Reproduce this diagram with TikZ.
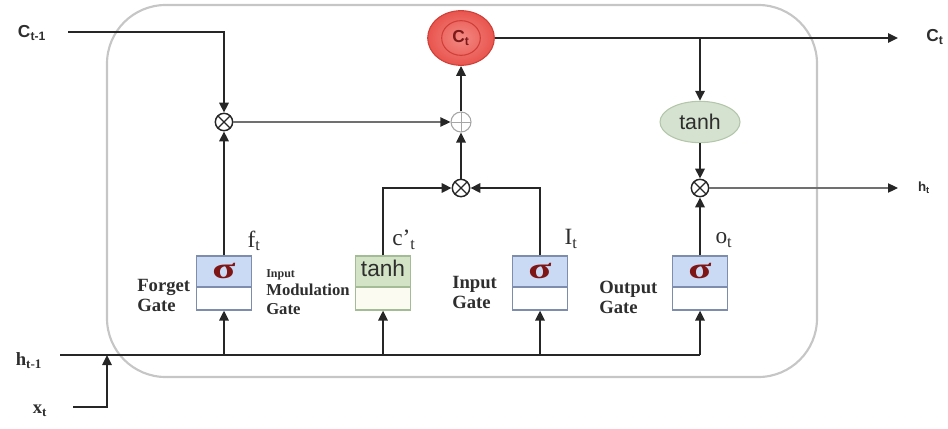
\documentclass[tikz,border=0pt]{standalone}
\usepackage{fontspec}
\setmainfont{Liberation Serif}
\setsansfont{Liberation Sans}
\usetikzlibrary{arrows.meta,shapes.geometric}

\definecolor{wire}{HTML}{262626}
\definecolor{thinwire}{HTML}{707070}
\definecolor{cellframe}{HTML}{C6C6C6}
\definecolor{sigfill}{HTML}{CBDAF4}
\definecolor{sigline}{HTML}{7F8DAD}
\definecolor{tanhfill}{HTML}{D3E3C6}
\definecolor{tanhline}{HTML}{A3BC95}
\definecolor{tanhlow}{HTML}{FBFBF1}
\definecolor{sigred}{HTML}{7E1616}
\definecolor{cellin}{HTML}{F38A84}
\definecolor{cellout}{HTML}{E9544E}
\definecolor{cellrim}{HTML}{D03E38}
\definecolor{celltext}{HTML}{7A1A1A}
\definecolor{ovalfill}{HTML}{D5E2CF}
\definecolor{ovalline}{HTML}{B3C6AA}
\definecolor{txt}{HTML}{2E2E2E}

\newcommand\fsz[2]{\fontsize{#1}{#2}\selectfont}
\newcommand\widesig{\scalebox{1.45}[1]{σ}}

\begin{document}
\begin{tikzpicture}[x=0.75pt,y=-0.75pt,
  wire/.style={draw=wire,line width=1.6pt},
  flow/.style={wire,-{Triangle[length=7.5pt,width=7pt]}},
  thinflow/.style={draw=thinwire,line width=0.8pt,-{Triangle[length=7.5pt,width=7pt,color=wire]}},
  mult/.style={circle,draw=wire,line width=1.1pt,minimum size=13pt,inner sep=0pt,fill=white,
    path picture={\draw[wire,line width=0.9pt]
      (path picture bounding box.north west) -- (path picture bounding box.south east)
      (path picture bounding box.north east) -- (path picture bounding box.south west);}},
  addc/.style={circle,draw=gray!70,line width=0.8pt,minimum size=15pt,inner sep=0pt,fill=white,
    path picture={\draw[gray!70,line width=0.6pt]
      (path picture bounding box.north) -- (path picture bounding box.south)
      (path picture bounding box.west) -- (path picture bounding box.east);}},
  gatebox/.style n args={3}{rectangle,draw=#2,line width=0.9pt,fill=#3,
    minimum width=41pt,minimum height=40.5pt,inner sep=0pt,
    path picture={\fill[#1] (path picture bounding box.north west)
        rectangle ([yshift=-3pt]path picture bounding box.east);
      \draw[#2,line width=0.9pt] ([yshift=-3pt]path picture bounding box.west)
        -- ([yshift=-3pt]path picture bounding box.east);}},
  sigbox/.style={gatebox={sigfill}{sigline}{white}},
  tanhbox/.style={gatebox={tanhfill}{tanhline}{tanhlow}},
  sig/.style={text=sigred,font=\fsz{22pt}{22pt}\bfseries,inner sep=0pt},
  outlbl/.style={text=txt,font=\fsz{17.5pt}{17.5pt},inner sep=0pt},
  gatelbl/.style={text=txt,font=\fsz{14pt}{15pt}\bfseries,align=left,anchor=west,inner sep=0pt},
  iolbl/.style={text=txt,inner sep=0pt}
]
\useasboundingbox (0,0) rectangle (948,428);

% cell frame
\draw[cellframe,line width=1.6pt,rounded corners=44pt] (107,5) rectangle (817,377);

% gates
\node[sigbox]  (fg) at (224,283) {};
\node[tanhbox] (tb) at (383,283) {};
\node[sigbox]  (ig) at (540,283) {};
\node[sigbox]  (og) at (700,283) {};
\node[sig] (fgs) at ([yshift=-11.5pt]fg.north) {\widesig};
\node[text=txt,font=\fsz{17pt}{17pt}\sffamily,inner sep=0pt] (tbs) at ([yshift=-10pt]tb.north) {tanh};
\node[sig] (igs) at ([yshift=-11.5pt]ig.north) {\widesig};
\node[sig] (ogs) at ([yshift=-11.5pt]og.north) {\widesig};

% gate captions
\node[gatelbl] (fgl) at (137,295) {Forget\\Gate};
\node[gatelbl,font=\fsz{12.5pt}{14pt}\bfseries] (tbl) at (266,292)
  {{\fsz{9pt}{10pt}\bfseries Input}\\Modulation\\Gate};
\node[gatelbl] (igl) at (452,292) {Input\\Gate};
\node[gatelbl] (ogl) at (599,297) {Output\\Gate};

% gate outputs
\node[outlbl] (fo) at (254,241) {f\textsubscript{t}};
\node[outlbl] (co) at (404,240) {c’\textsubscript{t}};
\node[outlbl] (io) at (571,239) {I\textsubscript{t}};
\node[outlbl] (oo) at (724,240) {o\textsubscript{t}};

% pointwise operations
\node[mult] (m1) at (224,122) {};
\node[addc] (ad) at (461,122) {};
\node[mult] (m2) at (461,188) {};
\node[mult] (m3) at (700,188) {};

% cell state and output squashing
\node[ellipse,draw=cellrim,line width=0.8pt,inner color=cellin,outer color=cellout,
  minimum width=50pt,minimum height=41pt,inner sep=0pt,
  path picture={\draw[cellrim,line width=0.8pt] (path picture bounding box.center) ellipse (14.5pt and 13pt);}]
  (ct) at (461,38) {\textcolor{celltext}{\fsz{13pt}{13pt}\sffamily\bfseries C\textsubscript{t}}};
\node[ellipse,draw=ovalline,line width=0.8pt,fill=ovalfill,minimum width=60pt,minimum height=31pt,
  inner sep=0pt,font=\fsz{16pt}{16pt}\sffamily,text=txt] (th) at (700,122) {tanh};

% inputs and outputs
\node[iolbl,font=\fsz{13pt}{13pt}\sffamily\bfseries] (lc) at (32,33) {C\textsubscript{t-1}};
\node[iolbl,font=\fsz{14pt}{14pt}\bfseries] (lh) at (29,361) {h\textsubscript{t-1}};
\node[iolbl,font=\fsz{14pt}{14pt}\bfseries] (lx) at (40,411) {x\textsubscript{t}};
\node[iolbl,font=\fsz{13pt}{13pt}\sffamily\bfseries] (lct) at (935,37) {C\textsubscript{t}};
\node[iolbl,font=\fsz{10pt}{10pt}\sffamily\bfseries] (lht) at (924,188) {h\textsubscript{t}};

\coordinate (cin) at (68,32);
\coordinate (hin) at (60,355);
\coordinate (hjoin) at (107,355);
\coordinate (xin) at (73,407);
\coordinate (cout) at (898,38);
\coordinate (branch) at (700,38);
\coordinate (hout) at (898,188);

% cell state path
\draw[flow] (cin) -| (m1.north);
\draw[flow] (fg.north) -- (m1.south);
\draw[thinflow] (m1.east) -- (ad.west);
\draw[flow] (tb.north) |- (m2.west);
\draw[flow] (ig.north) |- (m2.east);
\draw[flow] (m2.north) -- (ad.south);
\draw[flow] (ad.north) -- (ct.south);
\draw[flow] (ct.east) -- (cout);
\draw[flow] (branch) -- (th.north);
\draw[flow] (th.south) -- (m3.north);
\draw[flow] (og.north) -- (m3.south);
\draw[thinflow] (m3.east) -- (hout);

% hidden state and input feeding the gates
\draw[wire] (hin) -- (og.south |- hin);
\draw[flow] (fg.south |- hin) -- (fg.south);
\draw[flow] (tb.south |- hin) -- (tb.south);
\draw[flow] (ig.south |- hin) -- (ig.south);
\draw[flow] (og.south |- hin) -- (og.south);
\draw[flow] (xin) -| (hjoin);
\end{tikzpicture}
\end{document}
